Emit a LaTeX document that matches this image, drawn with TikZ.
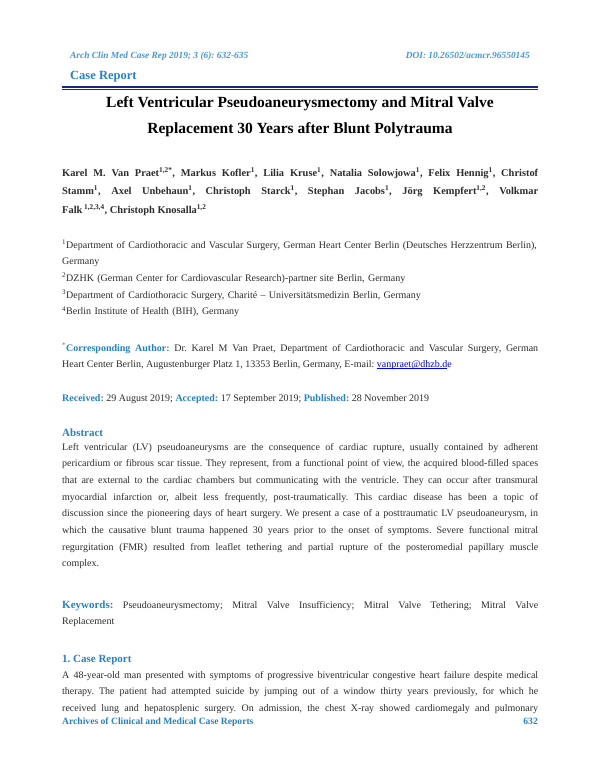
\documentclass[tikz,border=0pt]{standalone}
\usepackage{fontspec}
\setmainfont{Liberation Serif}
\usetikzlibrary{positioning}
\definecolor{jblue}{RGB}{38,128,205}
\definecolor{hblue}{RGB}{70,150,220}
\definecolor{navy}{RGB}{25,40,130}
\definecolor{ink}{RGB}{45,45,45}
\def\Body{\fontsize{10}{16.7}\selectfont}
\frenchspacing

\begin{document}
\begin{tikzpicture}[x=1pt,y=1pt,% styles used on the whole page
      every node/.style={inner sep=0pt,text=ink},
      para/.style={anchor=base west,text width=476pt,align=justify,font=\Body},
      head/.style={anchor=base west,text=jblue,font=\bfseries\fontsize{11}{12}\selectfont},
      hdr/.style={text=hblue,font=\bfseries\itshape\fontsize{9.4}{10}\selectfont}
    ]
    \useasboundingbox[fill=white] (0,0) rectangle (600,-776);
    \node[hdr,anchor=base west](hdr) at (70,-59){Arch Clin Med Case Rep 2019; 3 (6): 632-635};
    \node[hdr,anchor=base east](doi) at (530,-59){DOI: 10.26502/acmcr.96550145};
    \node[anchor=base west,text=jblue,font=\bfseries\fontsize{12.5}{14}\selectfont](kind) at (70,-79){Case Report};
    \coordinate (rl) at (62,-87);
    \coordinate (rr) at (538,-87);
    \draw[navy,line width=2pt] (rl) -- (rr);
    \draw[navy,line width=0.5pt] ([yshift=-2.2pt]rl) -- ([yshift=-2.2pt]rr);
    \node[anchor=base,align=center,text=black,font=\bfseries\fontsize{15.5}{26}\selectfont](title) at (300,-133){Left Ventricular Pseudoaneurysmectomy and Mitral Valve\\Replacement 30 Years after Blunt Polytrauma};
    \node[para,font=\bfseries\fontsize{10.4}{18.5}\selectfont](authors) at (62,-176){Karel M. Van Praet\textsuperscript{1,2*}, Markus Kofler\textsuperscript{1}, Lilia Kruse\textsuperscript{1}, Natalia Solowjowa\textsuperscript{1}, Felix Hennig\textsuperscript{1}, Christof\linebreak Stamm\textsuperscript{1}, Axel Unbehaun\textsuperscript{1}, Christoph Starck\textsuperscript{1}, Stephan Jacobs\textsuperscript{1}, Jörg Kempfert\textsuperscript{1,2}, Volkmar\linebreak Falk\,\textsuperscript{1,2,3,4}, Christoph Knosalla\textsuperscript{1,2}};
    \node[para,align=left](affil) at (62,-248){\textsuperscript{1}Department of Cardiothoracic and Vascular Surgery, German Heart Center Berlin (Deutsches Herzzentrum Berlin),\\Germany\\\textsuperscript{2}DZHK (German Center for Cardiovascular Research)-partner site Berlin, Germany\\\textsuperscript{3}Department of Cardiothoracic Surgery, Charité -- Universitätsmedizin Berlin, Germany\\\textsuperscript{4}Berlin Institute of Health (BIH), Germany};
    \node[para](corr) at (62,-351){\textcolor{jblue}{\textsuperscript{*}\textbf{Corresponding Author:}} Dr. Karel M Van Praet, Department of Cardiothoracic and Vascular Surgery, German\linebreak Heart Center Berlin, Augustenburger Platz 1, 13353 Berlin, Germany, E-mail: \textcolor{blue}{\rlap{\rule[-1.2pt]{70.5pt}{0.5pt}}vanpraet@dhzb.de}};
    \node[para](dates) at (62,-401){\textcolor{jblue}{\textbf{Received:}} 29 August 2019; \textcolor{jblue}{\textbf{Accepted:}} 17 September 2019; \textcolor{jblue}{\textbf{Published:}} 28 November 2019};
    \node[head](abshead) at (62,-436){Abstract};
    \node[para](abstract) at (62,-450){Left ventricular (LV) pseudoaneurysms are the consequence of cardiac rupture, usually contained by adherent\linebreak pericardium or fibrous scar tissue. They represent, from a functional point of view, the acquired blood-filled spaces\linebreak that are external to the cardiac chambers but communicating with the ventricle. They can occur after transmural\linebreak myocardial infarction or, albeit less frequently, post-traumatically. This cardiac disease has been a topic of\linebreak discussion since the pioneering days of heart surgery. We present a case of a posttraumatic LV pseudoaneurysm, in\linebreak which the causative blunt trauma happened 30 years prior to the onset of symptoms. Severe functional mitral\linebreak regurgitation (FMR) resulted from leaflet tethering and partial rupture of the posteromedial papillary muscle\linebreak complex.};
    \node[para](keys) at (62,-608){\textcolor{jblue}{\textbf{\fontsize{11}{12}\selectfont Keywords:}} Pseudoaneurysmectomy; Mitral Valve Insufficiency; Mitral Valve Tethering; Mitral Valve\linebreak Replacement};
    \node[head](sechead) at (62,-662){1. Case Report};
    \node[para](body) at (62,-678){A 48-year-old man presented with symptoms of progressive biventricular congestive heart failure despite medical\linebreak therapy. The patient had attempted suicide by jumping out of a window thirty years previously, for which he\linebreak received lung and hepatosplenic surgery. On admission, the chest X-ray showed cardiomegaly and pulmonary\hspace*{0pt}\linebreak[4]\mbox{}};
    \node[anchor=base west,text=jblue,font=\bfseries\fontsize{9.6}{11}\selectfont](foot) at (62,-724){Archives of Clinical and Medical Case Reports};
    \node[anchor=base east,text=jblue,font=\bfseries\fontsize{9.6}{11}\selectfont](page) at (538,-724){632};
  \end{tikzpicture}
\end{document}
